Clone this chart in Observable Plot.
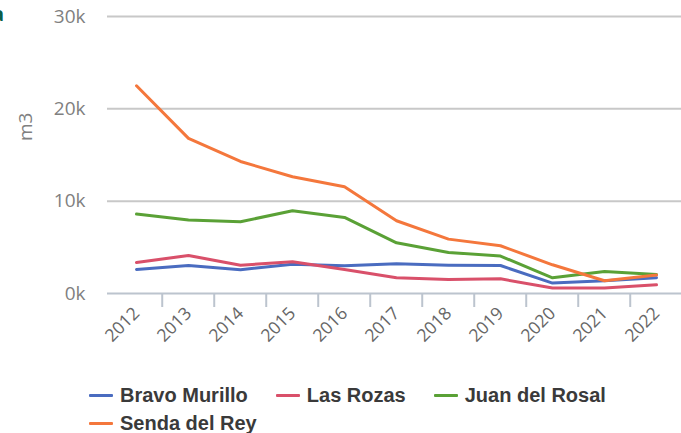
<!DOCTYPE html>
<html>
<head>
<meta charset="utf-8">
<script src="https://cdn.jsdelivr.net/npm/d3@7"></script>
<script src="https://cdn.jsdelivr.net/npm/@observablehq/plot@0.6"></script>
<style>
  html, body { margin: 0; padding: 0; background: #fff; overflow: hidden; }
  #wrap { position: relative; width: 681px; height: 433px; }
  #frag { position: absolute; left: -8px; top: 0px; font: bold 20px "Open Sans", sans-serif; color: #0b5e4a; }
  #legend { display: flex; flex-wrap: wrap; width: 590px; margin: 6px 0 0 89px; font: bold 20px "Liberation Sans", Arial, sans-serif; color: #3a3a3a; }
  .item { display: flex; align-items: center; height: 28px; margin-right: 28px; }
  .sw { width: 24px; height: 3px; margin-right: 7px; border-radius: 1px; }
</style>
</head>
<body>
<div id="wrap">
  <div id="chart"></div>
  <div id="legend"></div>
  <span id="frag">a</span>
</div>
<script>
const years = ["2012","2013","2014","2015","2016","2017","2018","2019","2020","2021","2022"];
const seriesNames = ["Bravo Murillo", "Las Rozas", "Juan del Rosal", "Senda del Rey"];
const bravoMurillo = [2600, 3030, 2570, 3180, 3000, 3220, 3070, 3030, 1130, 1380, 1700];
const lasRozas     = [3360, 4120, 3070, 3430, 2600, 1700, 1520, 1590, 590, 590, 940];
const juanDelRosal = [8600, 7950, 7770, 8960, 8240, 5490, 4450, 4050, 1700, 2380, 2060];
const sendaDelRey  = [22500, 16800, 14300, 12640, 11560, 7880, 5890, 5170, 3110, 1380, 2000];
const yTicks = [0, 10000, 20000, 30000];
const colors = ["#4a6cc0", "#d9506a", "#5aa136", "#f4773c"];

const seriesValues = [bravoMurillo, lasRozas, juanDelRosal, sendaDelRey];
const data = [];
seriesNames.forEach((s, i) => years.forEach((y, j) => data.push({series: s, year: y, value: seriesValues[i][j]})));

const W = 681, H = 375, ML = 107, MR = -4;
const step = (W - ML - MR) / years.length;

const chart = Plot.plot({
  width: W, height: H,
  marginLeft: ML, marginRight: MR, marginTop: 16, marginBottom: 82,
  style: {fontFamily: "'Open Sans', sans-serif", background: "transparent", overflow: "visible"},
  x: {type: "point", domain: years, padding: 0.5},
  y: {domain: [0, 30000]},
  color: {domain: seriesNames, range: colors},
  marks: [
    Plot.gridY(yTicks.slice(1), {stroke: "#c8c8c8", strokeOpacity: 1, strokeWidth: 2}),
    Plot.ruleY([0], {stroke: "#bcc4ce", strokeWidth: 2}),
    Plot.axisX(years.slice(1), {tickSize: 14, tickFormat: () => "", dx: -step / 2, stroke: "#bcc4ce", strokeWidth: 2, label: null}),
    Plot.axisX({tickSize: 0, tickRotate: -45, tickPadding: 17, fontSize: 17.5, fill: "#666", label: null}),
    Plot.axisY(yTicks, {tickSize: 0, tickPadding: 22, fontSize: 19, fill: "#808080", tickFormat: d => d / 1000 + "k", label: null}),
    Plot.text(["m3"], {frameAnchor: "left", dx: -82, dy: -14, rotate: -90, fontSize: 19, fill: "#808080"}),
    Plot.line(data, {x: "year", y: "value", stroke: "series", z: "series", strokeWidth: 3})
  ]
});
document.getElementById("chart").appendChild(chart);

const legend = document.getElementById("legend");
seriesNames.forEach((s, i) => {
  const it = document.createElement("div");
  it.className = "item";
  it.innerHTML = `<span class="sw" style="background:${colors[i]}"></span><span>${s}</span>`;
  legend.appendChild(it);
});
</script>
</body>
</html>
